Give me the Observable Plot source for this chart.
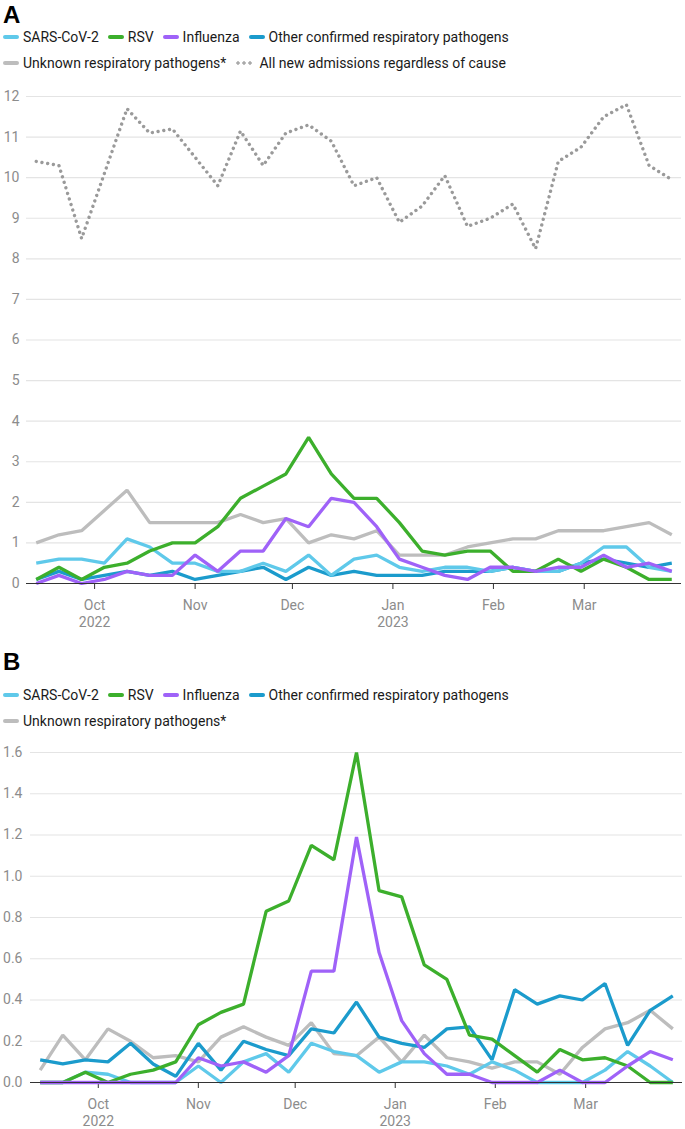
<!DOCTYPE html>
<html>
<head>
<meta charset="utf-8">
<script src="https://cdn.jsdelivr.net/npm/d3@7"></script>
<script src="https://cdn.jsdelivr.net/npm/@observablehq/plot@0.6"></script>
<style>
  html, body { margin: 0; padding: 0; background: #fff; }
  body { width: 685px; height: 1129px; position: relative; overflow: hidden; font-family: Roboto, "Noto Sans", sans-serif; }
  .title { position: absolute; left: 3px; font-family: "Liberation Sans", Arial, sans-serif; font-weight: bold; font-size: 24px; line-height: 24px; color: #000; }
  .legend { position: absolute; left: 3px; font-size: 14px; color: #1a1a1a; display: flex; align-items: center; white-space: nowrap; line-height: 18px; }
  .item { display: flex; align-items: center; margin-right: 9px; }
  .sw { width: 16px; height: 4px; border-radius: 2px; margin-right: 4px; }
  .dots { width: 18px; height: 4px; margin-right: 6px; background-image: radial-gradient(circle, #aaa 1.5px, transparent 1.8px); background-size: 6px 4px; background-repeat: repeat-x; }
  .chart { position: absolute; left: 0; }
</style>
</head>
<body>
<div class="title" style="top:3px">A</div>
<div class="legend" id="legA1" style="top:28px"></div>
<div class="legend" id="legA2" style="top:54px"></div>
<div class="title" style="top:650px">B</div>
<div class="legend" id="legB1" style="top:686px"></div>
<div class="legend" id="legB2" style="top:712px"></div>
<div class="chart" id="chartB" style="top:736px"></div>
<div class="chart" id="chartA" style="top:80px"></div>
<script>
// weekly dates
const weeks = ["2022-09-13","2022-09-20","2022-09-27","2022-10-04","2022-10-11","2022-10-18","2022-10-25","2022-11-01","2022-11-08","2022-11-15","2022-11-22","2022-11-29","2022-12-06","2022-12-13","2022-12-20","2022-12-27","2023-01-03","2023-01-10","2023-01-17","2023-01-24","2023-01-31","2023-02-07","2023-02-14","2023-02-21","2023-02-28","2023-03-07","2023-03-14","2023-03-21","2023-03-28"];

const seriesNames = ["SARS-CoV-2","RSV","Influenza","Other confirmed respiratory pathogens","Unknown respiratory pathogens*","All new admissions regardless of cause"];
const seriesColors = ["#5fc9ea","#3caf2c","#9f62f8","#1b9bcc","#bdbdbd","#9a9a9a"];

// Panel A
const sarsA    = [0.5,0.6,0.6,0.5,1.1,0.9,0.5,0.5,0.3,0.3,0.5,0.3,0.7,0.2,0.6,0.7,0.4,0.3,0.4,0.4,0.3,0.4,0.3,0.3,0.5,0.9,0.9,0.4,0.3];
const rsvA     = [0.1,0.4,0.1,0.4,0.5,0.8,1.0,1.0,1.4,2.1,2.4,2.7,3.6,2.7,2.1,2.1,1.5,0.8,0.7,0.8,0.8,0.3,0.3,0.6,0.3,0.6,0.4,0.1,0.1];
const fluA     = [0,0.2,0,0.1,0.3,0.2,0.2,0.7,0.3,0.8,0.8,1.6,1.4,2.1,2.0,1.4,0.6,0.4,0.2,0.1,0.4,0.4,0.3,0.4,0.4,0.7,0.4,0.5,0.3];
const otherA   = [0.1,0.3,0.1,0.2,0.3,0.2,0.3,0.1,0.2,0.3,0.4,0.1,0.4,0.2,0.3,0.2,0.2,0.2,0.3,0.3,0.3,0.4,0.3,0.3,0.5,0.6,0.5,0.4,0.5];
const unknownA = [1.0,1.2,1.3,1.8,2.3,1.5,1.5,1.5,1.5,1.7,1.5,1.6,1.0,1.2,1.1,1.3,0.7,0.7,0.7,0.9,1.0,1.1,1.1,1.3,1.3,1.3,1.4,1.5,1.2];
const allA     = [10.4,10.3,8.5,10.1,11.7,11.1,11.2,10.5,9.8,11.15,10.3,11.1,11.3,10.9,9.8,10.0,8.9,9.3,10.05,8.8,9.0,9.35,8.25,10.4,10.75,11.5,11.8,10.3,9.95];

// Panel B
const sarsB    = [0,0,0.05,0.04,0,0,0,0.08,0,0.1,0.14,0.05,0.19,0.15,0.13,0.05,0.1,0.1,0.08,0.04,0.1,0.06,0,0,0,0.06,0.15,0.08,0];
const rsvB     = [0,0,0.05,0,0.04,0.06,0.1,0.28,0.34,0.38,0.83,0.88,1.15,1.08,1.6,0.93,0.9,0.57,0.5,0.23,0.21,0.13,0.05,0.16,0.11,0.12,0.08,0,0];
const fluB     = [0,0,0,0,0,0,0,0.12,0.08,0.1,0.05,0.13,0.54,0.54,1.19,0.63,0.3,0.14,0.04,0.04,0,0,0,0.06,0,0,0.08,0.15,0.11];
const otherB   = [0.11,0.09,0.11,0.1,0.19,0.09,0.03,0.19,0.06,0.2,0.16,0.13,0.26,0.24,0.39,0.22,0.19,0.17,0.26,0.27,0.11,0.45,0.38,0.42,0.4,0.48,0.18,0.35,0.42];
const unknownB = [0.06,0.23,0.11,0.26,0.2,0.12,0.13,0.1,0.22,0.27,0.22,0.18,0.29,0.14,0.13,0.22,0.1,0.23,0.12,0.1,0.07,0.1,0.1,0.04,0.17,0.26,0.29,0.35,0.26];

// axis ticks
const xTickDates = ["2022-10-01","2022-11-01","2022-12-01","2023-01-01","2023-02-01","2023-03-01"];
const xTickLabels = ["Oct\n2022","Nov","Dec","Jan\n2023","Feb","Mar"];
const xDomain = ["2022-09-10","2023-03-31"];
const yTicksA = [0,1,2,3,4,5,6,7,8,9,10,11,12];
const yTicksB = [0,0.2,0.4,0.6,0.8,1.0,1.2,1.4,1.6];

const parse = s => new Date(s + "T00:00:00Z");
const tickDates = xTickDates.map(parse);
const labelOf = d => xTickLabels[tickDates.findIndex(t => +t === +d)];

function rows(vals) { return vals.map((v, i) => ({date: parse(weeks[i]), value: v})); }

function legend(el, idxs) {
  const c = document.getElementById(el);
  idxs.forEach(i => {
    const it = document.createElement("div");
    it.className = "item";
    const sw = document.createElement("div");
    if (i === 5) { sw.className = "dots"; }
    else { sw.className = "sw"; sw.style.background = seriesColors[i]; }
    const t = document.createElement("span");
    t.textContent = seriesNames[i];
    it.appendChild(sw); it.appendChild(t);
    c.appendChild(it);
  });
}
legend("legA1", [0,1,2,3]);
legend("legA2", [4,5]);
legend("legB1", [0,1,2,3]);
legend("legB2", [4]);

function chart(opts) {
  const lines = opts.series.map(([vals, ci, dotted]) =>
    Plot.line(rows(vals), {
      x: "date", y: "value", stroke: seriesColors[ci],
      strokeWidth: dotted ? 3.4 : 3.3,
      strokeDasharray: dotted ? "0.01,5.8" : null,
      strokeLinecap: dotted ? "round" : "butt",
      strokeLinejoin: "miter"
    }));
  return Plot.plot({
    width: 685,
    height: opts.height,
    marginTop: 16,
    marginLeft: opts.marginLeft,
    marginRight: opts.marginRight,
    marginBottom: opts.marginBottom,
    style: {fontFamily: "Roboto, sans-serif", fontSize: "14px", background: "transparent", overflow: "visible"},
    x: {type: "utc", domain: xDomain.map(parse)},
    y: {domain: opts.yDomain},
    marks: [
      Plot.gridY(opts.yTicks, {stroke: "#e4e4e4", strokeOpacity: 1, strokeWidth: 1.2}),
      Plot.axisY(opts.yTicks, {tickSize: 0, tickPadding: opts.yPad, tickFormat: opts.yFormat, fill: "#8c8c8c", fontSize: 14, label: null}),
      Plot.axisX(tickDates, {tickSize: 6, tickPadding: 9, tickFormat: labelOf, fill: "#8c8c8c", stroke: "#333", fontSize: 14, lineHeight: 1.2, label: null}),
      ...lines,
      Plot.ruleY([0], {stroke: "#333", strokeWidth: 1.2})
    ]
  });
}

document.getElementById("chartA").appendChild(chart({
  height: 556, marginLeft: 26, marginRight: 4, marginBottom: 53,
  yDomain: [0, 12], yTicks: yTicksA, yPad: 7, yFormat: d => String(d),
  series: [[unknownA,4,false],[allA,5,true],[otherA,3,false],[sarsA,0,false],[rsvA,1,false],[fluA,2,false]]
}));

document.getElementById("chartB").appendChild(chart({
  height: 393, marginLeft: 30, marginRight: 3, marginBottom: 47,
  yDomain: [0, 1.6], yTicks: yTicksB, yPad: 8, yFormat: d => d.toFixed(1),
  series: [[unknownB,4,false],[otherB,3,false],[sarsB,0,false],[rsvB,1,false],[fluB,2,false]]
}));
</script>
</body>
</html>
